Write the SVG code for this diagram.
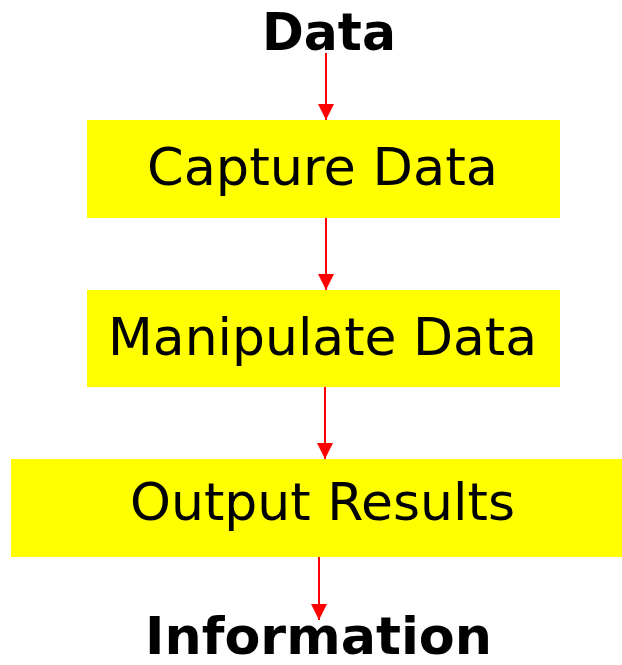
<svg xmlns="http://www.w3.org/2000/svg" width="622" height="665" viewBox="0 0 622 665">
<defs>
<style>
.box{fill:#ffff00;stroke:none}
.lbl{font-family:"DejaVu Sans","Liberation Sans",sans-serif;font-size:51px;fill:#000;text-anchor:middle}
.term{font-family:"DejaVu Sans","Liberation Sans",sans-serif;font-size:51px;font-weight:bold;fill:#000;text-anchor:middle}
.edge{stroke:#ff0000;stroke-width:2;fill:none;marker-end:url(#ah)}
</style>
<marker id="ah" markerUnits="userSpaceOnUse" markerWidth="16" markerHeight="16" viewBox="0 0 16 16" refX="16" refY="8" orient="auto">
<path d="M0,0 L16,8 L0,16 Z" fill="#ff0000"/>
</marker>
</defs>
<rect width="622" height="665" fill="#ffffff"/>
<g id="data">
<text class="term" x="329" y="50" textLength="134" lengthAdjust="spacingAndGlyphs">Data</text>
</g>
<g id="capture">
<rect class="box" x="87" y="120" width="473" height="98"/>
<text class="lbl" x="322.5" y="185" textLength="351" lengthAdjust="spacingAndGlyphs">Capture Data</text>
</g>
<g id="manipulate">
<rect class="box" x="87" y="290" width="473" height="97"/>
<text class="lbl" x="322.5" y="355" textLength="429" lengthAdjust="spacingAndGlyphs">Manipulate Data</text>
</g>
<g id="output">
<rect class="box" x="11" y="459" width="611" height="98"/>
<text class="lbl" x="322.5" y="520" textLength="385" lengthAdjust="spacingAndGlyphs">Output Results</text>
</g>
<g id="information">
<text class="term" x="318.5" y="654" textLength="347" lengthAdjust="spacingAndGlyphs">Information</text>
</g>
<g id="connectors">
<line class="edge" x1="326" y1="53" x2="326" y2="120"/>
<line class="edge" x1="326" y1="218" x2="326" y2="290"/>
<line class="edge" x1="325" y1="387" x2="325" y2="459"/>
<line class="edge" x1="319" y1="557" x2="319" y2="620"/>
</g>
</svg>
